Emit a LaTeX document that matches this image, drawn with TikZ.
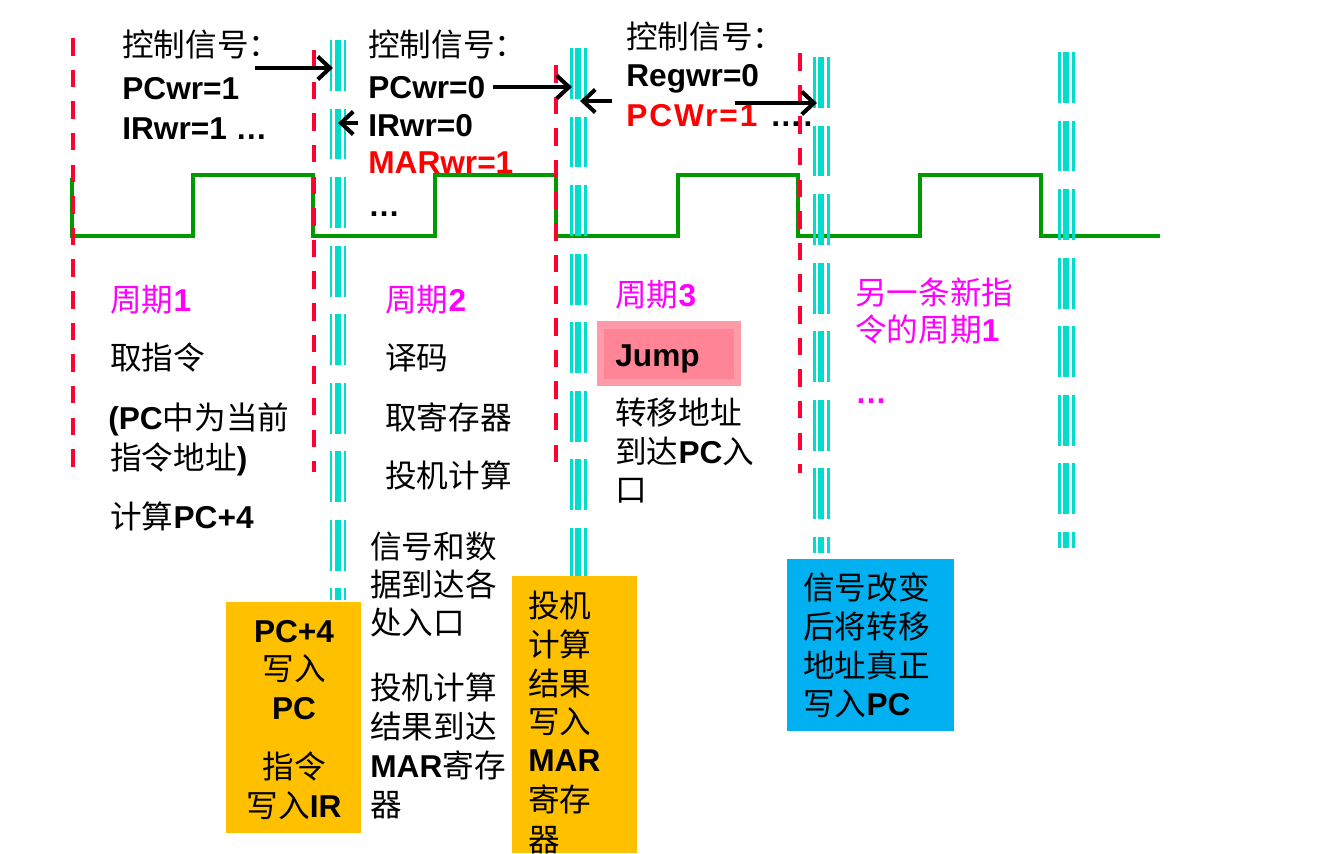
\documentclass[tikz,border=0pt]{standalone}
\usepackage{fontspec}
\setmainfont{Noto Sans CJK SC}
\newfontfamily\enfont{Liberation Sans}
\newcommand\en[1]{{\enfont\bfseries #1}}
\usepackage{xcolor}
\definecolor{ClkGreen}{HTML}{009900}
\definecolor{CutRed}{HTML}{FF0033}
\definecolor{LatchCyan}{HTML}{00DDCC}
\definecolor{PhaseMag}{HTML}{FF00FF}
\definecolor{BoxOrange}{HTML}{FFC000}
\definecolor{BoxBlue}{HTML}{00B0F0}
\definecolor{JumpOuter}{HTML}{FF9AA8}
\definecolor{JumpInner}{HTML}{FF8496}
\usetikzlibrary{arrows.meta}

\tikzset{
  txt/.style={anchor=base west, inner sep=0pt, font=\fontsize{18}{22}\selectfont},
  ctr/.style={txt, anchor=base},
  hot/.style={text=red},
  phase/.style={text=PhaseMag},
  sig/.style={-{Straight Barb[length=7pt,width=13pt]}, line width=2.3pt, black},
  cutline/.style={CutRed, line width=2.8pt, dash pattern=on 10pt off 8pt},
  clock/.style={ClkGreen, line width=2.8pt},
  latch/.style={LatchCyan, dash pattern=on 29pt off 10pt}
}

\begin{document}
\begin{tikzpicture}[x=0.02cm, y=-0.02cm]
    \useasboundingbox (0,0) rectangle (1327,853);
    % Clock
    \draw[clock] (72,178) -- (72,236) -- (193,236) -- (193,175) -- (313,175) --
      (313,236) -- (435,236) -- (435,175) -- (556,175) -- (556,236) --
      (678,236) -- (678,175) -- (798,175) -- (798,236) -- (920,236) --
      (920,175) -- (1041,175) -- (1041,236) -- (1160,236);
    % Cycle borders (red) and latch moments (cyan)
    \foreach \x/\a/\b in {73/38/470, 314/50/472, 556/65/470, 800/53/473}
      \draw[cutline] (\x,\a) -- (\x,\b);
    \foreach \x/\a/\b in {338/40/600, 578/48/576, 821/57/553, 1066/52/548}
      \foreach \dx/\w in {-7/1.7pt, 0/3.4pt, 7/1.7pt}
        \draw[latch, line width=\w] (\x+\dx,\a) -- (\x+\dx,\b);
    % Boxes
    \fill[BoxOrange] (226,602) rectangle (361,833);
    \fill[BoxOrange] (512,576) rectangle (637,853);
    \fill[BoxBlue] (787,559) rectangle (954,731);
    \fill[JumpOuter] (597,321) rectangle (741,386);
    \fill[JumpInner] (604,329) rectangle (734,379);
    % Control signals
    \node[txt] (s1a) at (122,56) {控制信号：};
    \node[txt] (s1b) at (122,99) {\en{PCwr=1}};
    \node[txt] (s1c) at (122,139) {\en{IRwr=1 …}};
    \node[txt] (s2a) at (368,56) {控制信号：};
    \node[txt] (s2b) at (368,98) {\en{PCwr=0}};
    \node[txt] (s2c) at (368,136) {\en{IRwr=0}};
    \node[txt, hot] (s2d) at (368,173) {\en{MARwr=1}};
    \node[txt] (s2e) at (368,216) {\en{…}};
    \node[txt] (s3a) at (626,48) {控制信号：};
    \node[txt] (s3b) at (626,86) {\en{Regwr=0}};
    \node[txt] (s3c) at (626,126) {\en{\addfontfeature{LetterSpace=6}\textcolor{red}{PCWr=1}\hspace{0.4em}….}};
    % Arrows to the latch lines
    \coordinate (a1s) at (255,68);  \coordinate (a1e) at (333,68);
    \coordinate (a2s) at (358,123); \coordinate (a2e) at (338,123);
    \coordinate (a3s) at (493,87);  \coordinate (a3e) at (572,87);
    \coordinate (a4s) at (612,101); \coordinate (a4e) at (580,101);
    \coordinate (a5s) at (735,103); \coordinate (a5e) at (817,103);
    \draw[sig] (a1s) -- (a1e);
    \draw[sig] (a2s) -- (a2e);
    \draw[sig] (a3s) -- (a3e);
    \draw[sig] (a4s) -- (a4e);
    \draw[sig] (a5s) -- (a5e);
    % Cycle 1
    \node[txt, phase] (p1) at (110,311) {周期\en{1}};
    \node[txt] (b1a) at (110,369) {取指令};
    \node[txt] (b1b) at (108,429) {\en{(PC}中为当前};
    \node[txt] (b1c) at (110,469) {指令地址\en{)}};
    \node[txt] (b1d) at (110,528) {计算\en{PC+4}};
    % Cycle 2
    \node[txt, phase] (p2) at (385,311) {周期\en{2}};
    \node[txt] (b2a) at (385,369) {译码};
    \node[txt] (b2b) at (385,429) {取寄存器};
    \node[txt] (b2c) at (385,487) {投机计算};
    \node[txt] (b2d) at (370,558) {信号和数};
    \node[txt] (b2e) at (370,596) {据到达各};
    \node[txt] (b2f) at (370,634) {处入口};
    \node[txt] (b2g) at (370,699) {投机计算};
    \node[txt] (b2h) at (370,738) {结果到达};
    \node[txt] (b2i) at (370,777) {\en{MAR}寄存};
    \node[txt] (b2j) at (370,816) {器};
    % Cycle 3
    \node[txt, phase] (p3) at (615,306) {周期\en{3}};
    \node[txt] (jmp) at (615,366) {\en{Jump}};
    \node[txt] (b3a) at (615,424) {转移地址};
    \node[txt] (b3b) at (615,463) {到达\en{PC}入};
    \node[txt] (b3c) at (615,501) {口};
    % Next instruction
    \node[txt, phase] (p4a) at (855,304) {另一条新指};
    \node[txt, phase] (p4b) at (855,341) {令的周期\en{1}};
    \node[txt, phase] (p4c) at (855,403) {\en{…}};
    % Box texts
    \node[ctr] (w1a) at (294,642) {\en{PC+4}};
    \node[ctr] (w1b) at (294,680) {写入};
    \node[ctr] (w1c) at (294,719) {\en{PC}};
    \node[ctr] (w1d) at (294,778) {指令};
    \node[ctr] (w1e) at (294,817) {写入\en{IR}};
    \node[txt] (w2a) at (528,617) {投机};
    \node[txt] (w2b) at (528,656) {计算};
    \node[txt] (w2c) at (528,695) {结果};
    \node[txt] (w2d) at (528,733) {写入};
    \node[txt] (w2e) at (528,771) {\en{MAR}};
    \node[txt] (w2f) at (528,811) {寄存};
    \node[txt] (w2g) at (528,851) {器};
    \node[txt] (w3a) at (803,599) {信号改变};
    \node[txt] (w3b) at (803,638) {后将转移};
    \node[txt] (w3c) at (803,677) {地址真正};
    \node[txt] (w3d) at (803,715) {写入\en{PC}};
\end{tikzpicture}
\end{document}
